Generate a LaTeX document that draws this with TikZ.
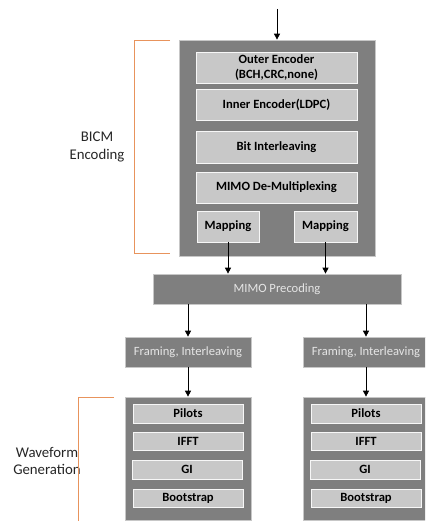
\documentclass[tikz,border=0pt]{standalone}
\usepackage{fontspec}
\setmainfont{Carlito}
\usetikzlibrary{arrows.meta}
\definecolor{darkg}{HTML}{7F7F7F}
\definecolor{lightg}{HTML}{C8C8C8}
\definecolor{brk}{HTML}{E8935C}
\begin{document}
\begin{tikzpicture}[x=1pt,y=-1pt,
  darkbox/.style={draw=black!22,line width=0.7pt,fill=darkg,inner sep=0pt,text=white!90!black,font=\fontsize{12.6}{14}\selectfont},
  lightbox/.style={draw=white!85!lightg,line width=0.8pt,fill=lightg,inner sep=0pt,font=\fontsize{12.6}{14.5}\selectfont\bfseries,align=center},
  arr/.style={-{Triangle[length=6pt,width=6pt]},line width=0.8pt},
  brack/.style={draw=brk,line width=0.9pt},
  lab/.style={font=\fontsize{14.8}{17.5}\selectfont,align=center,text=black!85}]
\useasboundingbox (0,0) rectangle (425,521);
\clip (0,0) rectangle (425,521);
% BICM
\node[darkbox,minimum width=196pt,minimum height=216pt] (bicm) at (277,148) {};
\node[lightbox,minimum width=161pt,minimum height=31pt] (outer) at (276.5,67.5) {Outer Encoder\\(BCH,CRC,none)};
\node[lightbox,minimum width=161pt,minimum height=31pt] (inner) at (276.5,104.5) {Inner Encoder(LDPC)};
\node[lightbox,minimum width=161pt,minimum height=32pt] (bit) at (276.5,147) {Bit Interleaving};
\node[lightbox,minimum width=161pt,minimum height=31pt] (demux) at (276.5,187.5) {MIMO De-Multiplexing};
\node[lightbox,minimum width=62pt,minimum height=31pt] (map1) at (228,226.5) {Mapping};
\node[lightbox,minimum width=63pt,minimum height=31pt] (map2) at (325.5,226.5) {Mapping};
\coordinate (in) at (277,9);
\draw[arr] (in) -- (bicm.north);
% precoding
\node[darkbox,minimum width=248pt,minimum height=30pt] (prec) at (277,289) {MIMO Precoding};
\draw[arr] (map1.south) -- (map1.south |- prec.north);
\draw[arr] (map2.south) -- (map2.south |- prec.north);
% framing
\node[darkbox,minimum width=126pt,minimum height=30pt] (fr1) at (188,352) {Framing, Interleaving};
\node[darkbox,minimum width=126pt,minimum height=30pt] (fr2) at (366,352) {Framing, Interleaving};
\draw[arr] (fr1.north |- prec.south) -- (fr1.north);
\draw[arr] (fr2.north |- prec.south) -- (fr2.north);
% waveform
\foreach \s/\cx in {1/188,2/366}{
  \node[darkbox,minimum width=126pt,minimum height=123pt] (wf\s) at (\cx,458.5) {};
  \node[lightbox,minimum width=110pt,minimum height=19pt] (pil\s) at (\cx,413.5) {Pilots};
  \node[lightbox,minimum width=110pt,minimum height=18pt] (ifft\s) at (\cx,441) {IFFT};
  \node[lightbox,minimum width=110pt,minimum height=19pt] (gi\s) at (\cx-1,469.5) {GI};
  \node[lightbox,minimum width=110pt,minimum height=18pt] (boot\s) at (\cx,498) {Bootstrap};
  \draw[arr] (fr\s.south) -- (wf\s.north);
}
% brackets and labels
\node[lab] (bicmlab) at (97,147) {BICM\\Encoding};
\draw[brack] (170,40) -- (134,40) -- (134,253) -- (170,253);
\node[lab] (wflab) at (47,461) {Waveform\\Generation};
\draw[brack] (114,397) -- (78,397) -- (78,525);
\end{tikzpicture}
\end{document}
